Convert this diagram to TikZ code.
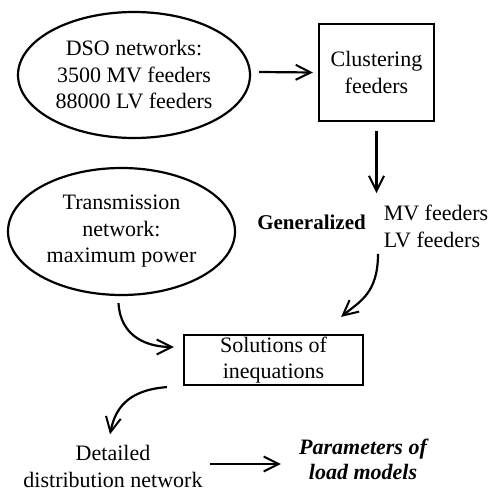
\documentclass[tikz,border=0pt]{standalone}
\usepackage{fontspec}
\setmainfont{Liberation Serif}
\usetikzlibrary{shapes.geometric,arrows.meta,calc}
\tikzset{
  txt/.style={align=center,font=\fontsize{22}{26.5}\selectfont,inner sep=0pt},
  oval/.style={ellipse,draw,line width=2.2pt,inner sep=0pt,txt},
  boxnode/.style={rectangle,draw,line width=2.2pt,inner sep=0pt,txt},
  arr/.style={line width=2.2pt,-{Straight Barb[length=15pt,width=15pt,line width=2pt]}},
}
\begin{document}
\begin{tikzpicture}[x=1pt,y=1pt]
\useasboundingbox (0,0) rectangle (491,491);
\node[oval,minimum width=232,minimum height=126] (dso) at (134,416) {DSO networks:\\3500 MV feeders\\88000 LV feeders};
\node[boxnode,minimum width=115,minimum height=97] (clu) at (376.5,418.5) {Clustering\\feeders};
\node[txt,align=left] (mvlv) at (436,264.5) {MV feeders\\LV feeders};
\node[txt,font=\fontsize{21}{26}\selectfont\bfseries] (gen) at (311.5,269) {Generalized};
\node[oval,minimum width=227,minimum height=127] (trans) at (121.5,259.5) {Transmission\\network:\\maximum power};
\node[boxnode,minimum width=179,minimum height=50] (sol) at (273.5,131) {Solutions of\\inequations};
\node[txt] (det) at (113,24.5) {Detailed\\distribution network};
\node[txt,font=\fontsize{22}{25}\selectfont\bfseries\itshape] (par) at (363,31.5) {Parameters of\\load models};
\draw[arr] (dso.east) ++(8,3) -- ($(clu.west)+(-5,0)$);
\draw[arr] ($(clu.south)+(0,-9)$) -- ($(clu.south)+(0,-71)$);
\draw[arr] ($(mvlv.south)+(-58,-6)$) .. controls ++(0,-40) and ++(18,15) .. ($(sol.north east)+(-23,17)$);
\draw[arr] ($(trans.south)+(-3,-7)$) .. controls ++(2,-35) and ++(-25,0) .. ($(sol.west)+(-9,13)$);
\draw[arr] ($(sol.south west)+(-16,-1)$) .. controls ++(-40,-3) and ++(5,25) .. ($(det.north)+(-3,11)$);
\draw[arr] ($(det.east)+(7,2.5)$) -- ($(par.west)+(-18,-4.5)$);
\end{tikzpicture}
\end{document}
